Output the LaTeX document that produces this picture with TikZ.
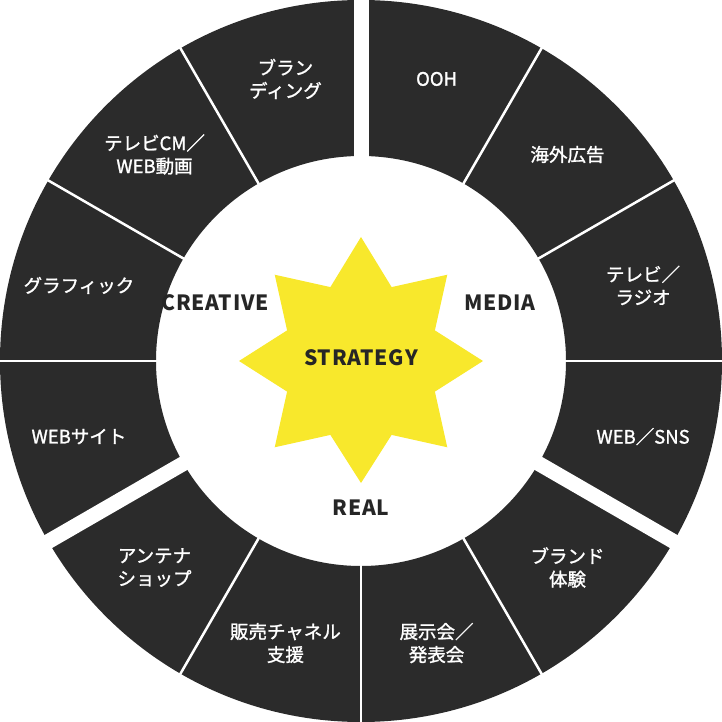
\documentclass[tikz,border=0pt]{standalone}
\usepackage{fontspec}
\setmainfont{Noto Sans CJK JP}
\newfontfamily\medf{Noto Sans CJK JP}[FakeBold=1.3]
\newfontfamily\bigf{Noto Sans CJK JP}[LetterSpace=4]
\begin{document}
\begin{tikzpicture}[x=1pt,y=1pt,
  seg/.style={white,line width=2.5pt},
  gap/.style={white,line width=15pt},
  lab/.style={text=white,font=\medf\fontsize{18.5}{23}\selectfont,align=center},
  big/.style={text=black!85,font=\bigf\bfseries\fontsize{21}{24}\selectfont}]
\definecolor{dark}{HTML}{2B2B2B}
\definecolor{star}{HTML}{F8E82C}
\useasboundingbox (-361,-361) rectangle (361,361);
\fill[dark,even odd rule] (0,0) circle (361) (0,0) circle (205);
\foreach \a in {60,30,0,-60,-90,-120,180,150,120} \draw[seg] (\a:200) -- (\a:365);
\foreach \a in {90,-30,210} \draw[gap] (\a:200) -- (\a:370);
\fill[star] (90:124) \foreach \i in {1,...,15}{ -- ({90+\i*22.5}:{mod(\i,2)==0 ? 122 : 80}) } -- cycle;
\node[big] (st) at (0,3) {STRATEGY};
\node[big] (cr) at (-146,58) {CREATIVE};
\node[big] (me) at (139,58) {MEDIA};
\node[big] (re) at (0,-147) {REAL};
\node[lab] (n1) at (75:292) {OOH};
\node[lab] (n2) at (45:292) {海外広告};
\node[lab] (n3) at (15:292) {テレビ／\\ラジオ};
\node[lab] (n4) at (-15:292) {WEB／SNS};
\node[lab] (n5) at (-45:292) {ブランド\\体験};
\node[lab] (n6) at (-75:292) {展示会／\\発表会};
\node[lab] (n7) at (-105:292) {販売チャネル\\支援};
\node[lab] (n8) at (-135:292) {アンテナ\\ショップ};
\node[lab] (n9) at (195:292) {WEBサイト};
\node[lab] (n10) at (165:292) {グラフィック};
\node[lab] (n11) at (135:292) {テレビCM／\\WEB動画};
\node[lab] (n12) at (105:292) {ブラン\\ディング};
\end{tikzpicture}
\end{document}
